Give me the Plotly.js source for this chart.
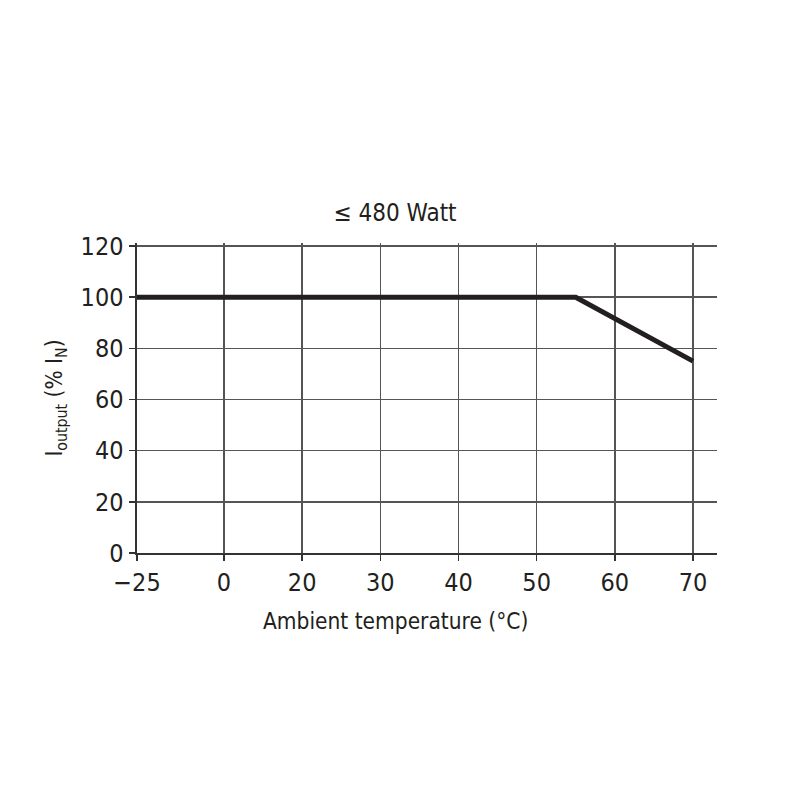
<!DOCTYPE html>
<html>
<head>
<meta charset="utf-8">
<script src="https://cdn.plot.ly/plotly-3.0.1.min.js"></script>
<style>
  html, body { margin: 0; padding: 0; background: #fff; }
  #chart { width: 800px; height: 800px; }
</style>
</head>
<body>
<div id="chart"></div>
<script>
// ---- data ----
const tickTemps = [-25, 0, 20, 30, 40, 50, 60, 70];
const tickLabels = ['\u221225', '0', '20', '30', '40', '50', '60', '70'];
const temps = [-25, 55, 70];
const current = [100, 100, 75];
const yTicks = [0, 20, 40, 60, 80, 100, 120];

// The printed axis is non-linear: the -25 step is slightly wider, the
// remaining labelled ticks are equally spaced. Map temperatures onto
// that drawn scale by interpolating between the tick marks.
const tickSlots = [-1.113, 0, 1, 2, 3, 4, 5, 6];
function toSlot(t) {
  for (let i = 0; i < tickTemps.length - 1; i++) {
    const a = tickTemps[i], b = tickTemps[i + 1];
    if (t >= a && t <= b) {
      return tickSlots[i] + (t - a) / (b - a) * (tickSlots[i + 1] - tickSlots[i]);
    }
  }
  return t < tickTemps[0] ? tickSlots[0] : tickSlots[tickSlots.length - 1];
}

const FONT = '"Liberation Sans Narrow", "DejaVu Sans Condensed", "Roboto Condensed", sans-serif';
const TXT = '#231f20';

const trace = {
  x: temps.map(toSlot),
  y: current,
  type: 'scatter',
  mode: 'lines',
  line: { color: '#231f20', width: 5 },
  hoverinfo: 'skip',
  showlegend: false
};

const layout = {
  width: 800,
  height: 800,
  paper_bgcolor: '#fff',
  plot_bgcolor: '#fff',
  margin: { l: 137, r: 83, t: 243, b: 247 },
  font: { family: FONT, color: TXT, size: 23 },
  title: {
    text: '\u2264 480 Watt',
    x: 0.445, xref: 'paper', xanchor: 'center',
    y: 0.734, yref: 'container', yanchor: 'middle',
    font: { family: FONT, size: 24, color: TXT }
  },
  xaxis: {
    range: [-1.113, 6.307],
    tickmode: 'array',
    tickvals: tickTemps.map(toSlot),
    ticktext: tickLabels,
    showgrid: true,
    gridcolor: '#555',
    gridwidth: 1.5,
    zeroline: false,
    showline: true,
    linecolor: '#333',
    linewidth: 2,
    ticks: 'outside',
    ticklen: 6,
    tickwidth: 1.5,
    tickcolor: '#333',
    tickfont: { family: FONT, size: 25, color: TXT },
    fixedrange: true
  },
  yaxis: {
    range: [0, 121.2],
    tickmode: 'array',
    tickvals: yTicks,
    ticktext: yTicks.map(String),
    showgrid: true,
    gridcolor: '#555',
    gridwidth: 1.5,
    zeroline: false,
    showline: true,
    linecolor: '#333',
    linewidth: 2.5,
    ticks: 'outside',
    ticklen: 6,
    tickwidth: 1.5,
    tickcolor: '#333',
    tickfont: { family: FONT, size: 25, color: TXT },
    title: {
      text: 'I<sub>output</sub> (% I<sub>N</sub>)',
      font: { family: FONT, size: 22.5, color: TXT },
      standoff: 12
    },
    fixedrange: true
  },
  annotations: [{
    text: 'Ambient temperature (°C)',
    xref: 'paper', yref: 'paper',
    x: 0.445, y: -0.219,
    xanchor: 'center', yanchor: 'middle',
    showarrow: false,
    font: { family: FONT, size: 22.5, color: TXT }
  }]
};

Plotly.newPlot('chart', [trace], layout, { displayModeBar: false, staticPlot: true });
</script>
</body>
</html>
